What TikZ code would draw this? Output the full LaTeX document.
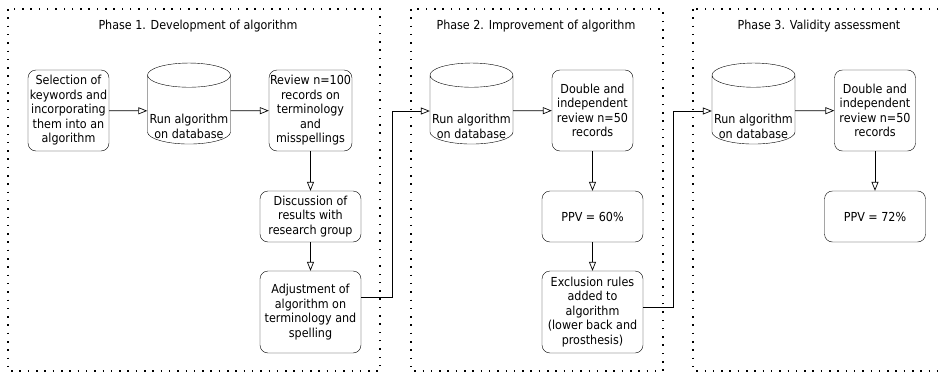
\documentclass[tikz,border=0pt]{standalone}
\usepackage{fontspec}
\setmainfont{DejaVu Sans Condensed}
\usetikzlibrary{arrows.meta}
\usetikzlibrary{shapes.geometric}
\usetikzlibrary{positioning}

% text of a database node, set a little below the middle
\newcommand{\dbtext}[1]{\raisebox{-20pt}[0pt][0pt]{\begin{tabular}{@{}c@{}}#1\end{tabular}}}

\begin{document}
\begin{tikzpicture}[x=1pt, y=-1pt,
			every node/.style={font=\fontsize{12.4}{14.5}\selectfont, align=center},
			procbox/.style={draw, rounded corners=8pt, inner sep=1pt, minimum width=81pt, minimum height=81pt},
			widebox/.style={procbox, minimum width=101pt, minimum height=51pt},
			tallbox/.style={procbox, minimum width=101pt, minimum height=82pt},
			dbnode/.style={draw, cylinder, shape border rotate=90, aspect=0.3, inner sep=1pt, minimum width=83pt, minimum height=81pt},
			phase/.style={draw, line width=1.5pt, dash pattern=on 1.5pt off 6.8pt},
			flow/.style={draw, line width=0.7pt, -{Triangle[open, length=9pt, width=7pt]}}
		]
		\clip (0,0) rectangle (943,372);

		% phase frames
		\draw[phase] (8,9) rectangle (380,371);
		\draw[phase] (411,9) rectangle (663,371);
		\draw[phase] (693,9) rectangle (960,371);
		\node (t1) at (198,26) {Phase 1. Development of algorithm};
		\node (t2) at (536,26) {Phase 2. Improvement of algorithm};
		\node (t3) at (819,26) {Phase 3. Validity assessment};

		% phase 1
		\node[procbox] (sel) at (68.5,110.5) {Selection of\\keywords and\\incorporating\\them into an\\algorithm};
		\node[dbnode] (db1) at (189,111) {\dbtext{Run algorithm\\on database}};
		\node[procbox] (rev) at (310.5,110.5) {Review n=100\\records on\\terminology\\and\\misspellings};
		\node[widebox] (disc) at (310.5,216.5) {Discussion of\\results with\\research group};
		\node[tallbox] (adj) at (310.5,312) {Adjustment of\\algorithm on\\terminology and\\spelling};

		% phase 2
		\node[dbnode] (db2) at (471.5,111) {\dbtext{Run algorithm\\on database}};
		\node[procbox] (dbl2) at (592.5,110.5) {Double and\\independent\\review n=50\\records};
		\node[widebox] (ppv2) at (592.5,216.5) {PPV = 60\%};
		\node[tallbox] (excl) at (592.5,312) {Exclusion rules\\added to\\algorithm\\(lower back and\\prosthesis)};

		% phase 3
		\node[dbnode] (db3) at (753.5,111) {\dbtext{Run algorithm\\on database}};
		\node[procbox] (dbl3) at (875,110.5) {Double and\\independent\\review n=50\\records};
		\node[widebox] (ppv3) at (875,216.5) {PPV = 72\%};

		% connectors
		\draw[flow] (sel) -- (db1);
		\draw[flow] (db1) -- (rev);
		\draw[flow] (rev) -- (disc);
		\draw[flow] (disc) -- (adj);
		\draw[flow] ([yshift=15pt]adj.east) -- ++(31,0) |- (db2.west);
		\draw[flow] (db2) -- (dbl2);
		\draw[flow] (dbl2) -- (ppv2);
		\draw[flow] (ppv2) -- (excl);
		\draw[flow] ([yshift=5pt]excl.east) -- ++(30,0) |- (db3.west);
		\draw[flow] (db3) -- (dbl3);
		\draw[flow] (dbl3) -- (ppv3);
	\end{tikzpicture}
\end{document}
